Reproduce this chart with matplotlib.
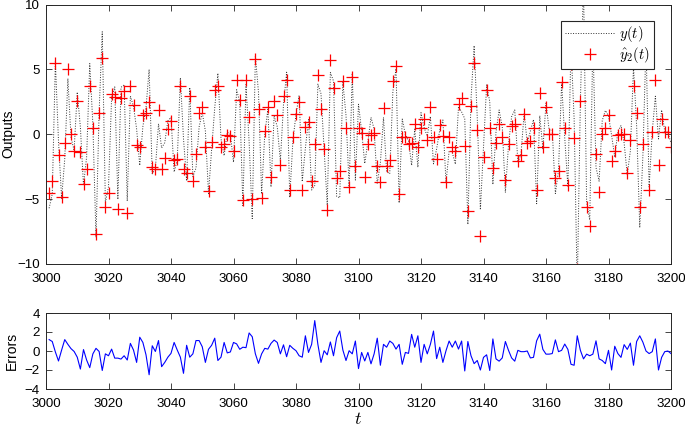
import matplotlib
matplotlib.use("Agg")
import matplotlib.pyplot as plt
import numpy as np

t = list(range(3001, 3201))

yhat = [-4.5, -3.6, 5.5, -1.6, -4.85, -0.7, 5.0, 0.0, -1.3, 2.6,
        -1.35, -3.8, -2.7, 3.7, 0.46, -7.67, 1.67, 5.85, -5.57, -4.54,
        3.07, 2.9, -5.77, 2.77, 3.3, -6.1, 3.74, 2.25, -0.8, -0.95,
        1.5, 1.65, 2.5, -2.5, -2.7, 1.9, -2.7, -1.85, 0.38, 1.05,
        -2.0, -1.9, 3.7, -2.7, -3.0, 2.95, -3.57, -1.5, 1.67, 2.12,
        -0.95, -4.4, -0.57, 3.4, 3.7, -1.0, -0.75, -0.05, -0.1, -1.26,
        4.18, 2.64, -5.1, 4.18, 1.3, -5.0, 5.77, 1.92, -4.9, 0.28,
        2.12, -3.26, 2.56, 1.48, -2.36, 2.95, 4.18, -4.28, -0.23, 1.56,
        2.5, -4.3, 0.53, 0.97, -3.6, -0.75, 4.56, 1.92, -1.1, -5.87,
        5.71, 3.6, -3.38, -2.8, 4.1, 0.46, -4.03, 4.4, -2.48, 0.46,
        0.1, -3.3, -0.75, -0.05, 0.1, -2.48, -3.7, 2.0, -2.48, -2.0,
        4.1, 5.25, -4.6, -0.23, -0.18, -0.75, -0.65, 0.8, -0.95, 0.46,
        1.2, -0.44, 2.07, -0.18, -1.93, 0.73, -0.1, -3.7, -0.23, -1.0,
        -1.26, 2.33, 2.77, -0.9, -5.95, 2.2, 5.5, 0.3, -7.82, -1.74,
        3.4, 0.46, -2.6, -0.65, 0.8, -0.18, -3.5, -0.75, 0.63, 0.8,
        -2.1, -1.6, 1.56, -0.65, -0.5, 0.46, -4.28, 3.2, -0.95, 2.07,
        0.0, 0.05, -3.4, -2.87, 4.05, 0.46, -3.9, 5.4, -0.3, -10.4,
        2.6, 10.7, -5.57, -7.1, 7.0, -1.5, -4.45, 0.05, 0.5, 1.5,
        -2.1, -1.26, -0.05, 0.0, 0.0, -2.95, -0.44, 3.7, 1.67, -5.6,
        -0.75, 7.0, -4.33, 0.15, 4.2, -2.36, 1.2, 0.15, 0.15, -0.95]

y = [-5.7, -4.6, 5.6, -0.55, -4.95, -1.9, 4.3, -0.25, -1.25, 3.25,
     0.55, -3.95, -1.75, 5.45, 0.76, -7.95, 1.72, 7.9, -5.27, -4.04,
     2.87, 3.65, -5.02, 3.62, 3.8, -5.15, 2.94, 2.15, 0.4, -2.4,
     0.6, 2.05, 5.0, -3.05, -2.65, 0.8, -1.05, -0.65, 1.03, 1.3,
     -2.9, -2.0, 4.35, -0.35, -3.6, 3.6, -3.27, -2.6, 0.57, 1.67,
     0.25, -4.58, -1.17, 2.05, 4.7, -0.35, -1.65, 0.15, 0.0, -2.16,
     3.43, 2.46, -5.5, 3.83, -0.6, -6.5, 6.07, 3.22, -4.6, 0.0,
     1.92, -4.06, 1.41, 0.58, -2.06, 2.3, 4.78, -4.88, -0.51, 1.53,
     3.0, -3.65, -1.07, 1.12, -4.3, -3.95, 3.86, 3.12, -1.13, -5.47,
     4.76, 4.1, -4.78, -4.9, 4.0, 1.46, -4.06, 4.7, -3.53, 2.31,
     0.25, -2.25, -0.6, 1.3, 0.4, -3.83, -2.2, 1.3, -2.88, -3.05,
     3.3, 5.05, -5.3, 1.17, -0.03, -0.5, -2.4, 0.4, -2.55, 1.66,
     0.5, -0.14, 1.37, -2.28, -1.13, 0.33, 1.1, -3.73, -1.28, -1.4,
     -2.31, 2.13, 1.72, 1.2, -6.95, 2.7, 6.83, 1.3, -5.82, -1.07,
     3.8, 2.51, -3.87, 0.18, 1.87, 0.55, -4.5, -0.82, 1.36, 1.87,
     -2.17, -1.53, 1.63, -0.65, 0.23, 1.13, -5.35, 1.43, -1.12, 2.4,
     0.33, 0.32, -4.57, -2.8, 3.98, -0.27, -4.07, 6.8, 1.2, -12.0,
     2.53, 11.53, -5.24, -6.6, 7.33, -2.57, -3.62, 1.05, 1.83, 1.43,
     -0.1, -1.76, 0.22, 0.67, -0.67, -3.12, -1.27, 5.2, 0.67, -7.2,
     -1.68, 7.0, -4.06, 0.22, 2.93, -0.36, 1.87, 0.22, 0.15, -0.68]

err = [1.2, 1.0, -0.1, -1.05, 0.1, 1.2, 0.7, 0.25, -0.05, -0.65,
       -1.9, 0.15, -0.95, -1.75, -0.3, 0.28, -0.05, -2.05, -0.3, -0.5,
       0.2, -0.75, -0.75, -0.85, -0.5, -0.95, 0.8, 0.1, -1.2, 1.45,
       0.9, -0.4, -2.5, 0.55, -0.05, 1.1, -1.65, -1.2, -0.65, -0.25,
       0.9, 0.1, -0.65, -2.35, 0.6, -0.65, -0.3, 1.1, 1.1, 0.45,
       -1.2, 0.18, 0.6, 1.35, -1.0, -0.65, 0.9, -0.2, -0.1, 0.9,
       0.75, 0.18, 0.4, 0.35, 1.9, 1.5, -0.3, -1.3, -0.3, 0.28,
       0.2, 0.8, 1.15, 0.9, -0.3, 0.65, -0.6, 0.6, 0.28, 0.03,
       -0.5, -0.65, 1.6, -0.15, 0.7, 3.2, 0.7, -1.2, 0.03, -0.4,
       0.95, -0.5, 1.4, 2.1, 0.1, -1.0, 0.03, -0.3, 1.05, -1.85,
       -0.15, -1.05, -0.15, -1.35, -0.3, 1.35, -1.5, 0.7, 0.4, 1.05,
       0.8, 0.2, 0.7, -1.4, -0.15, -0.25, 1.75, 0.4, 1.6, -1.2,
       0.7, -0.3, 0.7, 2.1, -0.8, 0.4, -1.2, 0.03, 1.05, 0.4,
       1.05, 0.2, 1.05, -2.1, 1.0, -0.5, -1.33, -1.0, -2.0, -0.67,
       -0.4, -2.05, 1.27, -0.83, -1.07, -0.73, 1.0, 0.07, -0.73, -1.07,
       0.07, -0.07, -0.07, 0.0, -0.73, -0.67, 1.07, 1.77, 0.17, -0.33,
       -0.33, -0.27, 1.17, -0.07, 0.07, 0.73, 0.17, -1.4, -1.5, 1.6,
       0.07, -0.83, -0.33, -0.5, -0.33, 1.07, -0.83, -1.0, -1.33, 0.07,
       -2.0, 0.5, -0.27, -0.67, 0.67, 0.17, 0.83, -1.5, 1.0, 1.6,
       0.93, 0.0, -0.27, -0.07, 1.27, -2.0, -0.67, -0.07, 0.0, -0.27]

xticks = list(range(3000, 3201, 20))
yticks_top = [-10, -5, 0, 5, 10]
yticks_bot = [-4, -2, 0, 2, 4]

plt.rcParams['font.family'] = ['Liberation Sans', 'DejaVu Sans']
plt.rcParams['mathtext.fontset'] = 'cm'

fig = plt.figure(figsize=(6.85, 4.30), dpi=100)
ax1 = fig.add_axes([46/685, 1 - 264/430, 625/685, 259.5/430])
ax2 = fig.add_axes([46/685, 1 - 389/430, 625/685, 76/430])

ax1.plot(t, y, color='#333333', linestyle=(0, (1, 1.6)), linewidth=0.7, label='$y(t)$')
ax1.plot(t, yhat, linestyle='none', marker='+', color='red', markersize=9,
         markeredgewidth=0.9, label=r'$\hat{y}_2(t)$')
ax1.set_xlim(3000, 3200)
ax1.set_ylim(-10, 10)
ax1.set_xticks(xticks)
ax1.set_yticks(yticks_top)
ax1.set_ylabel('Outputs', fontsize=10, labelpad=1.5)

leg = ax1.legend(loc='upper right', bbox_to_anchor=(0.973, 0.937), borderaxespad=0,
                 fontsize=10.5, frameon=True, fancybox=False, framealpha=1,
                 edgecolor='#262626', handlelength=3.4, handletextpad=0.35,
                 borderpad=0.25, labelspacing=0.05, markerfirst=True)
leg.get_frame().set_linewidth(0.8)

ax2.plot(t, err, color='blue', linewidth=0.8)
ax2.set_xlim(3000, 3200)
ax2.set_ylim(-4, 4)
ax2.set_xticks(xticks)
ax2.set_yticks(yticks_bot)
ax2.set_ylabel('Errors', fontsize=10, labelpad=4)
ax2.set_xlabel('$t$', fontsize=13, labelpad=1)

for ax in (ax1, ax2):
    ax.tick_params(direction='in', top=True, right=True, length=4, width=0.6,
                   labelsize=9.6, colors='#262626', labelcolor='black')
    ax.tick_params(axis='x', pad=6.5)
    ax.tick_params(axis='y', pad=4.5)
    for s in ax.spines.values():
        s.set_linewidth(0.7)
        s.set_color('#262626')

fig.savefig('out.png', dpi=100)
